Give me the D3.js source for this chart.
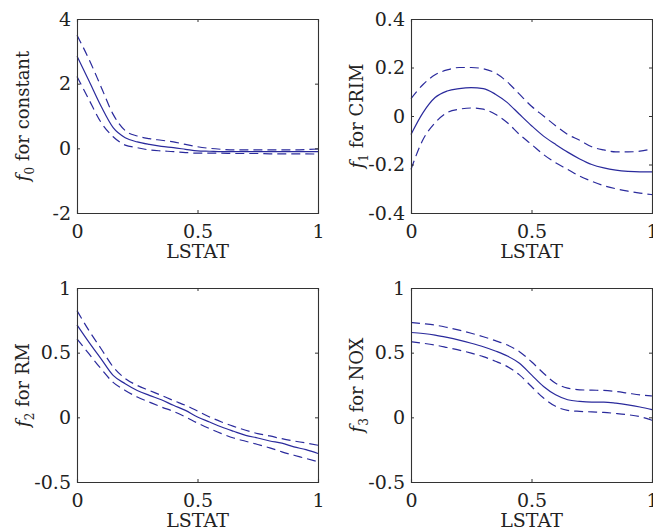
<!DOCTYPE html>
<html>
<head>
<meta charset="utf-8">
<script src="https://cdn.jsdelivr.net/npm/d3@7"></script>
<style>
  body { margin: 0; background: #fff; }
</style>
</head>
<body>
<svg id="chart" width="653" height="527"></svg>
<script>
// LSTAT grid shared by all panels
const xs = [0, 0.05, 0.1, 0.15, 0.2, 0.25, 0.3, 0.35, 0.4, 0.45, 0.5, 0.55, 0.6, 0.65, 0.7, 0.75, 0.8, 0.85, 0.9, 0.95, 1.0];

// f0 for constant
const f0Mid   = [2.85, 2.08, 1.30, 0.64, 0.33, 0.20, 0.12, 0.06, 0.02, -0.03, -0.08, -0.09, -0.10, -0.10, -0.10, -0.10, -0.10, -0.10, -0.10, -0.10, -0.10];
const f0Upper = [3.50, 2.75, 1.90, 1.05, 0.55, 0.38, 0.30, 0.25, 0.20, 0.12, 0.05, 0.00, -0.03, -0.05, -0.05, -0.05, -0.05, -0.05, -0.05, -0.04, -0.02];
const f0Lower = [2.22, 1.50, 0.80, 0.36, 0.10, 0.02, -0.05, -0.08, -0.10, -0.13, -0.15, -0.15, -0.15, -0.16, -0.16, -0.16, -0.17, -0.17, -0.17, -0.17, -0.18];

// f1 for CRIM
const f1Mid   = [-0.076, 0.014, 0.076, 0.103, 0.113, 0.117, 0.113, 0.090, 0.055, 0.007, -0.040, -0.083, -0.117, -0.149, -0.177, -0.200, -0.214, -0.223, -0.228, -0.230, -0.230];
const f1Upper = [0.072, 0.130, 0.170, 0.190, 0.200, 0.200, 0.195, 0.177, 0.140, 0.090, 0.040, 0.000, -0.040, -0.076, -0.100, -0.127, -0.140, -0.148, -0.148, -0.145, -0.135];
const f1Lower = [-0.220, -0.097, -0.028, 0.014, 0.028, 0.033, 0.028, 0.007, -0.028, -0.076, -0.117, -0.159, -0.193, -0.220, -0.248, -0.269, -0.287, -0.300, -0.310, -0.318, -0.324];

// f2 for RM
const f2Mid   = [0.715, 0.580, 0.452, 0.324, 0.260, 0.208, 0.170, 0.136, 0.093, 0.054, 0.003, -0.036, -0.075, -0.108, -0.139, -0.160, -0.183, -0.200, -0.229, -0.250, -0.280];
const f2Upper = [0.825, 0.670, 0.530, 0.390, 0.300, 0.247, 0.208, 0.170, 0.130, 0.093, 0.049, 0.003, -0.036, -0.070, -0.100, -0.126, -0.144, -0.165, -0.183, -0.198, -0.216];
const f2Lower = [0.607, 0.490, 0.375, 0.270, 0.208, 0.157, 0.118, 0.080, 0.046, 0.003, -0.044, -0.087, -0.126, -0.160, -0.185, -0.210, -0.236, -0.267, -0.293, -0.318, -0.344];

// f3 for NOX
const f3Mid   = [0.656, 0.648, 0.636, 0.618, 0.597, 0.573, 0.546, 0.513, 0.474, 0.418, 0.328, 0.238, 0.174, 0.136, 0.123, 0.118, 0.118, 0.110, 0.097, 0.080, 0.059];
const f3Upper = [0.733, 0.724, 0.713, 0.695, 0.674, 0.650, 0.623, 0.593, 0.559, 0.508, 0.430, 0.341, 0.264, 0.226, 0.213, 0.210, 0.208, 0.200, 0.187, 0.174, 0.165];
const f3Lower = [0.585, 0.573, 0.559, 0.540, 0.520, 0.496, 0.469, 0.434, 0.392, 0.328, 0.238, 0.149, 0.085, 0.054, 0.046, 0.042, 0.038, 0.030, 0.020, 0.005, -0.023];

const xTicks = [0, 0.5, 1];
const yTicks0 = [-2, 0, 2, 4];
const yTicks1 = [-0.4, -0.2, 0, 0.2, 0.4];
const yTicks23 = [-0.5, 0, 0.5, 1];
const labels = ['0', '1', '2', '3'];
const names = ['constant', 'CRIM', 'RM', 'NOX'];

const panels = [
  { mid: f0Mid, upper: f0Upper, lower: f0Lower, domain: [-2, 4], ticks: yTicks0, left: 77, top: 19 },
  { mid: f1Mid, upper: f1Upper, lower: f1Lower, domain: [-0.4, 0.4], ticks: yTicks1, left: 411, top: 19 },
  { mid: f2Mid, upper: f2Upper, lower: f2Lower, domain: [-0.5, 1], ticks: yTicks23, left: 77, top: 288 },
  { mid: f3Mid, upper: f3Upper, lower: f3Lower, domain: [-0.5, 1], ticks: yTicks23, left: 411, top: 288 }
];

const W = 241, H = 194;
const lineColor = '#2a2a9c';
const serif = '"DejaVu Serif", "Liberation Serif", serif';
const fontSize = '19px';
const fmt = d => String(d);

const svg = d3.select('#chart');

panels.forEach((p, i) => {
  const g = svg.append('g').attr('transform', `translate(${p.left},${p.top})`);
  const x = d3.scaleLinear().domain([0, 1]).range([0, W]);
  const y = d3.scaleLinear().domain(p.domain).range([H, 0]);

  const line = d3.line()
    .x((d, k) => x(xs[k]))
    .y(d => y(d))
    .curve(d3.curveMonotoneX);

  // curves
  g.append('path').attr('d', line(p.upper)).attr('fill', 'none')
    .attr('stroke', lineColor).attr('stroke-width', 1.2).attr('stroke-dasharray', '9,5');
  g.append('path').attr('d', line(p.lower)).attr('fill', 'none')
    .attr('stroke', lineColor).attr('stroke-width', 1.2).attr('stroke-dasharray', '9,5');
  g.append('path').attr('d', line(p.mid)).attr('fill', 'none')
    .attr('stroke', lineColor).attr('stroke-width', 1.2);

  // box with inward ticks on every side (matlab style)
  const bottom = g.append('g').attr('transform', `translate(0,${H})`)
    .call(d3.axisBottom(x).tickValues(xTicks).tickSize(-3).tickPadding(7).tickFormat(fmt));
  g.append('g')
    .call(d3.axisLeft(y).tickValues(p.ticks).tickSize(-3).tickPadding(6).tickFormat(fmt));
  g.append('g')
    .call(d3.axisTop(x).tickValues(xTicks).tickSize(-3).tickFormat(''));
  g.append('g').attr('transform', `translate(${W},0)`)
    .call(d3.axisRight(y).tickValues(p.ticks).tickSize(-3).tickFormat(''));

  g.selectAll('g').attr('font-family', serif).attr('font-size', null);
  g.selectAll('.domain').attr('stroke', '#333').attr('stroke-width', 1.1);
  g.selectAll('.tick line').attr('stroke', '#333');
  g.selectAll('.tick text').attr('font-family', serif).style('font-size', fontSize).attr('fill', '#222');
  bottom.selectAll('.tick text').attr('dy', '0.95em');

  // axis titles
  g.append('text')
    .attr('x', W / 2).attr('y', H + 45)
    .attr('text-anchor', 'middle')
    .attr('font-family', serif)
    .attr('fill', '#222')
    .style('font-size', fontSize)
    .text('LSTAT');

  const yl = g.append('text')
    .attr('transform', `translate(-48,${H / 2}) rotate(-90)`)
    .attr('text-anchor', 'middle')
    .attr('font-family', serif)
    .attr('fill', '#222')
    .style('font-size', '18px');
  yl.append('tspan').style('font-style', 'italic').text('f');
  yl.append('tspan').attr('dy', 5).style('font-size', '12px').text(labels[i]);
  yl.append('tspan').attr('dy', -5).text('\u00a0for ' + names[i]);
});
</script>
</body>
</html>
